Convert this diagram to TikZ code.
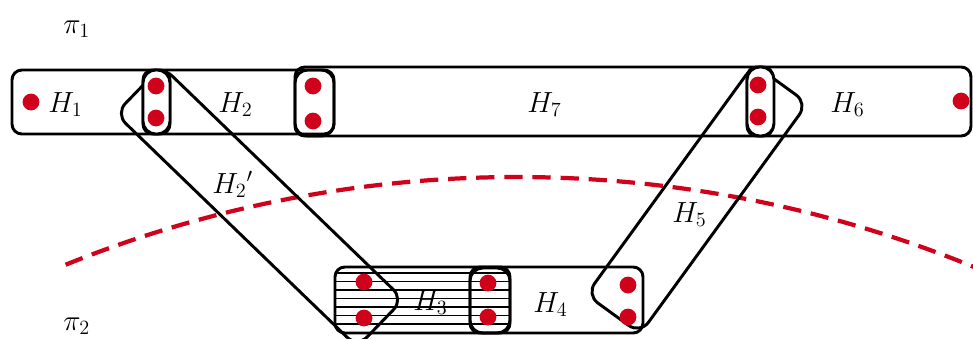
\documentclass[tikz,border=0pt]{standalone}
\usepackage{tikz}
\usepackage{amsmath}
\definecolor{cutred}{HTML}{D0021B}
\tikzset{
  hedge/.style={draw=black, line width=2.1pt, rounded corners=7pt},
  pairbox/.style={hedge, rounded corners=9pt},
  band/.style={rectangle, draw=black, line width=2.1pt, rounded corners=10pt, inner sep=0pt},
  vtx/.style={circle, fill=cutred, inner sep=0pt, minimum size=0.42cm},
  lbl/.style={anchor=base west, inner sep=0pt},
  hatch/.style={black, line width=0.9pt},
  cut/.style={cutred, line width=3pt, dash pattern=on 13pt off 7pt},
}

\begin{document}
\begin{tikzpicture}[x=0.025cm, y=0.025cm, font=\fontsize{21}{25}\selectfont]
  \useasboundingbox (0,0) rectangle (973,338);
  \clip (0,0) rectangle (973,338);

  \draw[cut] (517,-1044) ++(112:1205) arc[start angle=112, end angle=66, radius=1205];

  \begin{scope}
    \clip[rounded corners=7pt] (335,5) rectangle (510,71);
    \foreach \y in {14,22.5,31,39.5,48,56.5,65}
      \draw[hatch] (335,\y) -- (510,\y);
  \end{scope}

  \draw[hedge] (12,204) rectangle (170,268);
  \draw[hedge] (143,204) rectangle (334,268);
  \draw[hedge] (295,202) rectangle (773,271);
  \draw[hedge] (747,202) rectangle (971,271);
  \draw[hedge] (335,5) rectangle (510,71);
  \draw[hedge] (470,5) rectangle (643,71);

  \node[band, minimum width=8.4cm, minimum height=1.66cm, rotate=-44] (H2band) at (259.5,131.5) {};
  \node[band, minimum width=7.12cm, minimum height=1.66cm, rotate=54] (H5band) at (697,139) {};

  \draw[pairbox, fill=white] (143,204) rectangle (170,268);
  \draw[pairbox] (295,202) rectangle (334,268);
  \draw[pairbox, fill=white] (747,202) rectangle (774,271);
  \draw[pairbox] (470,5) rectangle (510,70);

  \node[vtx] (u1) at (31,236) {};
  \node[vtx] (u2) at (156,252) {};
  \node[vtx] (u3) at (156,220) {};
  \node[vtx] (u4) at (313,252) {};
  \node[vtx] (u5) at (313,217) {};
  \node[vtx] (u6) at (758,253) {};
  \node[vtx] (u7) at (758,221) {};
  \node[vtx] (u8) at (961,237) {};
  \node[vtx] (w1) at (364,56) {};
  \node[vtx] (w2) at (364,20) {};
  \node[vtx] (w3) at (488,55) {};
  \node[vtx] (w4) at (488,21) {};
  \node[vtx] (w5) at (628,53) {};
  \node[vtx] (w6) at (628,21) {};

  \node[lbl] (lH1) at (48,226) {$H_1$};
  \node[lbl] (lH2) at (218,226) {$H_2$};
  \node[lbl] (lH7) at (527,226) {$H_7$};
  \node[lbl] (lH6) at (830,226) {$H_6$};
  \node[lbl] (lH2p) at (212,145) {$H_2{}'$};
  \node[lbl] (lH5) at (672,116) {$H_5$};
  \node[lbl] (lH3) at (413,28) {$H_3$};
  \node[lbl] (lH4) at (533,26) {$H_4$};
  \node[lbl] (pi1) at (63,305) {$\pi_1$};
  \node[lbl] (pi2) at (63,8) {$\pi_2$};
\end{tikzpicture}
\end{document}
